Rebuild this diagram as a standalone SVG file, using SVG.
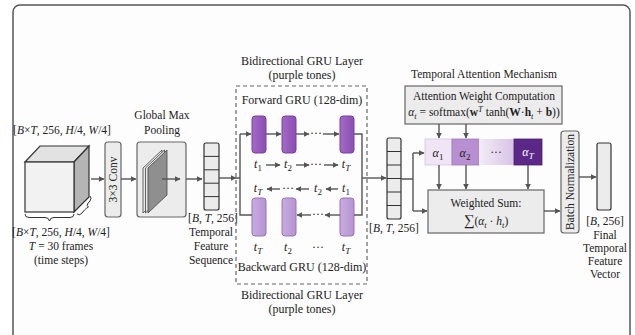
<svg xmlns="http://www.w3.org/2000/svg" width="635" height="335" viewBox="0 0 635 335" font-family="'Liberation Serif', 'Times New Roman', serif">
  <defs>
    <marker id="arr" viewBox="0 0 10 10" refX="9" refY="5" markerWidth="6" markerHeight="6" orient="auto" markerUnits="userSpaceOnUse">
      <path d="M0,0 L10,5 L0,10 z" fill="#555"/>
    </marker>
    <linearGradient id="dotsGrad" x1="0" y1="0" x2="1" y2="0">
      <stop offset="0" stop-color="#f3ecf7"/>
      <stop offset="1" stop-color="#d8c3e6"/>
    </linearGradient>
    <linearGradient id="fwdGrad" x1="0" y1="0" x2="1" y2="0">
      <stop offset="0" stop-color="#a36ac6"/>
      <stop offset="1" stop-color="#8a4fb2"/>
    </linearGradient>
    <linearGradient id="bwdGrad" x1="0" y1="0" x2="1" y2="0">
      <stop offset="0" stop-color="#c8abdf"/>
      <stop offset="1" stop-color="#b593d0"/>
    </linearGradient>
  </defs>
  <style>
    text { font-family: 'Liberation Serif', 'Times New Roman', serif; fill: #222; font-size: 11.5px; }
    .c { text-anchor: middle; }
    .t12 { font-size: 12px; }
    .it { font-style: italic; }
    .b { font-weight: bold; }
    .box { fill: #ececec; stroke: #666; stroke-width: 1.2; }
    .cell { fill: #ececec; stroke: #333; stroke-width: 1.2; }
    .ln { fill: none; stroke: #555; stroke-width: 1.4; }
    .ar { fill: none; stroke: #555; stroke-width: 1.4; marker-end: url(#arr); }
    .fwd { fill: url(#fwdGrad); stroke: #7a3fa2; stroke-width: 1; }
    .bwd { fill: url(#bwdGrad); stroke: #9a72bb; stroke-width: 1; }
  </style>

  <!-- outer frame -->
  <rect x="13" y="5" width="617" height="345" rx="7" fill="#fdfdfd" stroke="#555" stroke-width="1.5"/>

  <!-- input feature volume -->
  <g id="input-cube">
    <text class="c" x="62" y="134">[<tspan class="it">B</tspan>×<tspan class="it">T</tspan>, 256, <tspan class="it">H</tspan>/4, <tspan class="it">W</tspan>/4]</text>
    <polygon points="25,162 40,146 89,146 74,162" fill="#e2e2e2" stroke="#333" stroke-width="1.2"/>
    <polygon points="74,162 89,146 89,197 74,212" fill="#b5b5b5" stroke="#333" stroke-width="1.2"/>
    <rect x="25" y="162" width="49" height="50" fill="#f2f2f2" stroke="#333" stroke-width="1.2"/>
    <path d="M25,214 q0,3.5 4,3.5 h16 q4,0 4.5,3.5 q0.5,-3.5 4.5,-3.5 h16 q4,0 4,-3.5" fill="none" stroke="#333" stroke-width="1"/>
    <path d="M77,214 q3,2 5,-1 l2.5,-3 q2,-2 4,-3 q-2,-1 -1,-3 l2.5,-3 q2,-3 0,-5" fill="none" stroke="#333" stroke-width="1"/>
    <text class="c" x="61" y="236">[<tspan class="it">B</tspan>×<tspan class="it">T</tspan>, 256, <tspan class="it">H</tspan>/4, <tspan class="it">W</tspan>/4]</text>
    <text class="c" x="61" y="250"><tspan class="it">T</tspan> = 30 frames</text>
    <text class="c" x="61" y="264">(time steps)</text>
  </g>

  <!-- 3x3 convolution -->
  <g id="conv">
    <rect class="box" x="105" y="142" width="16" height="75" rx="3"/>
    <text class="c" transform="translate(117,179.5) rotate(-90)">3×3 Conv</text>
  </g>

  <!-- global max pooling -->
  <g id="pooling">
    <text class="c" x="162" y="119">Global Max</text>
    <text class="c" x="162" y="134">Pooling</text>
    <rect class="box" x="137" y="142" width="49" height="75" rx="3"/>
    <polygon points="143,168 162,150 162,195 143,213" fill="#e6e6e6" stroke="#444" stroke-width="0.8"/>
    <polygon points="145.5,168 164.5,150 164.5,195 145.5,213" fill="#e6e6e6" stroke="#444" stroke-width="0.8"/>
    <polygon points="148,168 167,150 167,195 148,213" fill="#8f8f8f" stroke="#444" stroke-width="0.8"/>
  </g>

  <!-- temporal feature sequence -->
  <g id="feature-seq">
    <rect class="cell" x="204" y="143" width="15" height="67" rx="2"/>
    <path d="M204,156.4 H219 M204,169.8 H219 M204,183.2 H219 M204,196.6 H219" fill="none" stroke="#333" stroke-width="1"/>
    <text class="c" x="213" y="222">[<tspan class="it">B</tspan>, <tspan class="it">T</tspan>, 256]</text>
    <text class="c" x="211" y="236">Temporal</text>
    <text class="c" x="211" y="250">Feature</text>
    <text class="c" x="211" y="264">Sequence</text>
  </g>

  <!-- bidirectional GRU -->
  <g id="bigru">
    <text class="c t12" x="302" y="65">Bidirectional GRU Layer</text>
    <text class="c t12" x="302" y="79">(purple tones)</text>
    <rect x="236" y="86" width="131" height="198" fill="none" stroke="#666" stroke-width="1.2" stroke-dasharray="4,3"/>
    <text class="c t12" x="302" y="104">Forward GRU (128-dim)</text>
    <rect class="fwd" x="252" y="116" width="14" height="37" rx="3"/>
    <rect class="fwd" x="282" y="116" width="14" height="37" rx="3"/>
    <rect class="fwd" x="340" y="116" width="14" height="37" rx="3"/>
    <text class="c t12" x="316" y="137">···</text>
    <text class="c t12 it" x="258" y="168">t<tspan baseline-shift="-3" font-size="9" font-style="normal">1</tspan></text>
    <text class="c t12 it" x="288" y="168">t<tspan baseline-shift="-3" font-size="9" font-style="normal">2</tspan></text>
    <text class="c t12" x="316" y="168">···</text>
    <text class="c t12 it" x="346" y="168">t<tspan baseline-shift="-3" font-size="9">T</tspan></text>
    <text class="c t12 it" x="258" y="192">t<tspan baseline-shift="-3" font-size="9">T</tspan></text>
    <text class="c t12" x="288" y="192">···</text>
    <text class="c t12 it" x="318" y="192">t<tspan baseline-shift="-3" font-size="9" font-style="normal">2</tspan></text>
    <text class="c t12 it" x="346" y="192">t<tspan baseline-shift="-3" font-size="9" font-style="normal">1</tspan></text>
    <rect class="bwd" x="252" y="198" width="14" height="38" rx="3"/>
    <rect class="bwd" x="282" y="198" width="14" height="38" rx="3"/>
    <rect class="bwd" x="340" y="198" width="14" height="38" rx="3"/>
    <text class="c t12" x="318" y="218">···</text>
    <text class="c t12 it" x="258" y="251">t<tspan baseline-shift="-3" font-size="9">T</tspan></text>
    <text class="c t12 it" x="288" y="251">t<tspan baseline-shift="-3" font-size="9" font-style="normal">2</tspan></text>
    <text class="c t12" x="318" y="251">···</text>
    <text class="c t12 it" x="346" y="251">t<tspan baseline-shift="-3" font-size="9">T</tspan></text>
    <text class="c t12" x="302" y="271">Backward GRU (128-dim)</text>
    <text class="c t12" x="302" y="299">Bidirectional GRU Layer</text>
    <text class="c t12" x="302" y="313">(purple tones)</text>
  </g>

  <!-- GRU output sequence -->
  <g id="gru-output">
    <rect class="cell" x="387" y="138" width="14" height="81" rx="2"/>
    <path d="M387,151.5 H401 M387,165 H401 M387,178.5 H401 M387,192 H401 M387,205.5 H401" fill="none" stroke="#333" stroke-width="1"/>
    <text class="c" x="394" y="232">[<tspan class="it">B</tspan>, <tspan class="it">T</tspan>, 256]</text>
  </g>

  <!-- temporal attention -->
  <g id="attention">
    <text class="c" x="484" y="78">Temporal Attention Mechanism</text>
    <rect class="box" x="405" y="86" width="157" height="38"/>
    <text class="c" x="484" y="100">Attention Weight Computation</text>
    <text class="c" x="484" y="116"><tspan class="it">α</tspan><tspan baseline-shift="-3" font-size="8.5" font-style="italic">t</tspan> = softmax(<tspan class="b">w</tspan><tspan baseline-shift="4" font-size="8.5" font-style="italic">T</tspan> tanh(<tspan class="b">W</tspan>·<tspan class="b">h</tspan><tspan baseline-shift="-3" font-size="8.5" font-style="italic">t</tspan> + <tspan class="b">b</tspan>))</text>
  </g>

  <g id="attention-weights">
    <rect x="425" y="139" width="27" height="26" fill="#efe5f4" stroke="#d8c6e3" stroke-width="0.8"/>
    <rect x="452" y="139" width="27" height="26" fill="#b88fd0" stroke="#a07ab9" stroke-width="0.8"/>
    <rect x="479" y="139" width="35" height="26" fill="url(#dotsGrad)"/>
    <rect x="514" y="139" width="28" height="26" fill="#5b2887" stroke="#4a1d72" stroke-width="0.8"/>
    <text class="c t12 it" x="438" y="157">α<tspan baseline-shift="-3" font-size="9" font-style="normal">1</tspan></text>
    <text class="c t12 it" x="465" y="157">α<tspan baseline-shift="-3" font-size="9" font-style="normal">2</tspan></text>
    <text class="c" x="496" y="156">···</text>
    <text class="c t12 it" x="528" y="156" style="fill:#fff">α<tspan baseline-shift="-3" font-size="9">T</tspan></text>
  </g>

  <g id="weighted-sum">
    <rect class="box" x="428" y="190" width="116" height="43"/>
    <text class="c" x="486" y="207">Weighted Sum:</text>
    <text class="c" x="486" y="225"><tspan font-size="15">∑</tspan>(<tspan class="it">α</tspan><tspan baseline-shift="-3" font-size="8.5" font-style="italic">t</tspan> · <tspan class="it">h</tspan><tspan baseline-shift="-3" font-size="8.5" font-style="italic">t</tspan>)</text>
  </g>

  <!-- batch normalization -->
  <g id="batchnorm">
    <rect class="box" x="561" y="131" width="18" height="102" rx="3"/>
    <text class="c" transform="translate(574,182) rotate(-90)">Batch Normalization</text>
  </g>

  <!-- final feature vector -->
  <g id="final-vector">
    <rect class="cell" x="597" y="143" width="14" height="67" rx="2"/>
    <text class="c" x="605" y="225">[<tspan class="it">B</tspan>, 256]</text>
    <text class="c" x="605" y="239">Final</text>
    <text class="c" x="605" y="252">Temporal</text>
    <text class="c" x="605" y="265">Feature</text>
    <text class="c" x="605" y="278">Vector</text>
  </g>

  <!-- connectors -->
  <g id="connectors">
    <path class="ar" d="M91,179 H104"/>
    <path class="ar" d="M121,179 H136"/>
    <path class="ar" d="M162,179 H180"/>
    <path class="ar" d="M186,179 H202"/>
    <path class="ar" d="M219,178 H236"/>
    <path class="ln" d="M236,178 H240 M240,134 V215 H252"/>
    <path class="ar" d="M240,134 H251"/>
    <path class="ar" d="M266,134 H281"/>
    <path class="ar" d="M296,134 H309"/>
    <path class="ar" d="M323,134 H339"/>
    <path class="ar" d="M266,165 H280"/>
    <path class="ar" d="M296,165 H309"/>
    <path class="ar" d="M324,165 H338"/>
    <path class="ar" d="M280,189 H267"/>
    <path class="ar" d="M309,189 H296"/>
    <path class="ar" d="M338,189 H326"/>
    <path class="ar" d="M340,215 H325"/>
    <path class="ar" d="M311,215 H297"/>
    <path class="ln" d="M354,134 H362 V215 H354"/>
    <path class="ar" d="M362,178 H386"/>
    <path class="ln" d="M401,179 H413 M413,153 V211"/>
    <path class="ar" d="M413,153 H424"/>
    <path class="ar" d="M413,211 H427"/>
    <path class="ar" d="M439,124 V138"/>
    <path class="ar" d="M466,124 V138"/>
    <path class="ar" d="M439,165 V189"/>
    <path class="ar" d="M466,165 V189"/>
    <path class="ar" d="M528,165 V189"/>
    <path class="ar" d="M544,211 H560"/>
    <path class="ar" d="M579,177 H596"/>
  </g>
</svg>
